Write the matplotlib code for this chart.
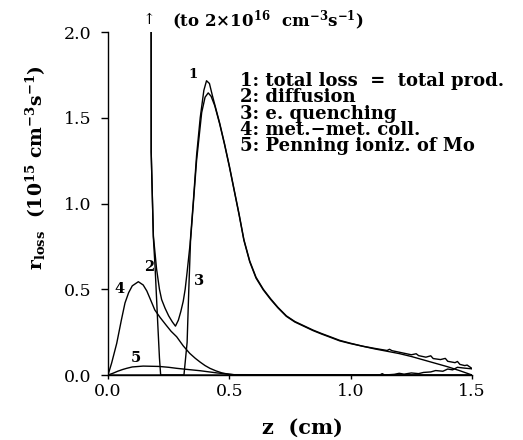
import matplotlib
matplotlib.use("Agg")
import matplotlib.pyplot as plt

plt.rcParams["font.family"] = ["DejaVu Serif", "DejaVu Sans"]
plt.rcParams["mathtext.fontset"] = "custom"
plt.rcParams["mathtext.rm"] = "DejaVu Serif:bold"
plt.rcParams["mathtext.bf"] = "DejaVu Serif:bold"
plt.rcParams["mathtext.it"] = "DejaVu Serif:bold:italic"
plt.rcParams["mathtext.default"] = "rm"

# ---- data (r_loss in 1e15 cm^-3 s^-1, z in cm) ----
# 1: total loss = total prod.
z_total = [0.0, 0.172, 0.178, 0.187, 0.200, 0.212, 0.221, 0.235, 0.250, 0.265,
           0.278, 0.290, 0.300, 0.310, 0.318, 0.326, 0.338, 0.352, 0.365, 0.380,
           0.395, 0.406, 0.418, 0.430, 0.445, 0.460, 0.480, 0.500, 0.520, 0.540,
           0.560, 0.584, 0.610, 0.640, 0.670, 0.700, 0.735, 0.770, 0.800, 0.845,
           0.880, 0.914, 0.955, 1.000, 1.050, 1.100, 1.150, 1.160, 1.170, 1.200,
           1.250, 1.270, 1.280, 1.310, 1.330, 1.340, 1.370, 1.390, 1.400, 1.430,
           1.440, 1.450, 1.470, 1.480, 1.500]
r_total = [20.0, 20.0, 1.30, 0.81, 0.62, 0.50, 0.44, 0.39, 0.345, 0.31,
           0.285, 0.32, 0.37, 0.43, 0.50, 0.60, 0.76, 1.02, 1.28, 1.50,
           1.66, 1.716, 1.70, 1.63, 1.55, 1.47, 1.35, 1.22, 1.08, 0.94,
           0.79, 0.665, 0.57, 0.50, 0.445, 0.395, 0.345, 0.312, 0.292, 0.262,
           0.242, 0.224, 0.202, 0.185, 0.168, 0.155, 0.143, 0.150, 0.142, 0.133,
           0.118, 0.124, 0.113, 0.104, 0.112, 0.096, 0.090, 0.097, 0.080, 0.072,
           0.079, 0.062, 0.055, 0.058, 0.038]

# 2: diffusion
z_diff = [0.0, 0.172, 0.178, 0.187, 0.194, 0.205, 0.212, 0.217, 1.10, 1.12,
          1.13, 1.14, 1.18, 1.20, 1.22, 1.25, 1.28, 1.30, 1.33, 1.35,
          1.38, 1.40, 1.42, 1.44, 1.47, 1.50]
r_diff = [20.0, 20.0, 1.30, 0.80, 0.63, 0.30, 0.10, 0.0, 0.0, 0.0,
          0.008, 0.0, 0.004, 0.010, 0.005, 0.012, 0.008, 0.015, 0.018, 0.026,
          0.022, 0.035, 0.030, 0.045, 0.040, 0.036]

# 3: e. quenching
z_quench = [0.0, 0.313, 0.326, 0.333, 0.340, 0.365, 0.386, 0.400, 0.413, 0.425,
            0.440, 0.460, 0.480, 0.500, 0.520, 0.540, 0.560, 0.584, 0.610, 0.640,
            0.670, 0.700, 0.735, 0.770, 0.800, 0.845, 0.880, 0.914, 0.955, 1.000,
            1.100, 1.200, 1.250, 1.300, 1.350, 1.400, 1.450, 1.500]
r_quench = [0.0, 0.0, 0.19, 0.50, 0.78, 1.25, 1.53, 1.62, 1.645, 1.625,
            1.57, 1.465, 1.345, 1.215, 1.075, 0.935, 0.785, 0.66, 0.565, 0.496,
            0.441, 0.392, 0.342, 0.309, 0.289, 0.259, 0.239, 0.221, 0.199, 0.183,
            0.152, 0.125, 0.108, 0.088, 0.068, 0.048, 0.025, 0.0]

# 4: met.-met. coll.
z_metmet = [0.0, 0.015, 0.036, 0.055, 0.070, 0.085, 0.100, 0.125, 0.145, 0.160,
            0.175, 0.193, 0.215, 0.240, 0.260, 0.283, 0.310, 0.337, 0.360, 0.380,
            0.400, 0.420, 0.445, 0.470, 0.500, 0.530, 1.500]
r_metmet = [0.0, 0.07, 0.185, 0.32, 0.42, 0.48, 0.52, 0.544, 0.525, 0.49,
            0.44, 0.379, 0.335, 0.29, 0.255, 0.223, 0.17, 0.126, 0.097, 0.075,
            0.055, 0.039, 0.024, 0.012, 0.004, 0.0, 0.0]

# 5: Penning ioniz. of Mo
z_penning = [0.0, 0.020, 0.040, 0.060, 0.077, 0.100, 0.145, 0.210, 0.250, 0.283,
             0.330, 0.380, 0.450, 0.520, 1.500]
r_penning = [0.0, 0.010, 0.022, 0.032, 0.039, 0.047, 0.052, 0.050, 0.045, 0.039,
             0.032, 0.025, 0.012, 0.002, 0.0]

legend_lines = ["1: total loss  =  total prod.", "2: diffusion", "3: e. quenching",
                "4: met.\u2212met. coll.", "5: Penning ioniz. of Mo"]
curve_tags = ["1", "2", "3", "4", "5"]
tag_z = [0.351, 0.168, 0.376, 0.047, 0.115]
tag_r = [1.75, 0.63, 0.55, 0.50, 0.10]
tag_size = [9.5, 10.5, 10.5, 10.5, 10.5]

fig = plt.figure(figsize=(5.23, 4.40), dpi=100)
ax = fig.add_axes([0.2065, 0.1477, 0.696, 0.7795])

for zz, rr in [(z_total, r_total), (z_diff, r_diff), (z_quench, r_quench),
               (z_metmet, r_metmet), (z_penning, r_penning)]:
    ax.plot(zz, rr, color="black", lw=1.0)

ax.set_xlim(0, 1.5)
ax.set_ylim(0, 2.0)
ax.set_xticks([0.0, 0.5, 1.0, 1.5])
ax.set_yticks([0.0, 0.5, 1.0, 1.5, 2.0])
ax.xaxis.set_major_formatter(matplotlib.ticker.FormatStrFormatter("%.1f"))
ax.yaxis.set_major_formatter(matplotlib.ticker.FormatStrFormatter("%.1f"))
ax.tick_params(axis="y", direction="out", length=5, width=1, pad=7, labelsize=12.5)
ax.tick_params(axis="x", direction="out", length=3, width=1, pad=3, labelsize=12.5)
for s in ["top", "right"]:
    ax.spines[s].set_visible(False)
for s in ["left", "bottom"]:
    ax.spines[s].set_linewidth(1.0)

for t, zx, ry, fs in zip(curve_tags, tag_z, tag_r, tag_size):
    ax.text(zx, ry, t, fontsize=fs, fontweight="bold", ha="center", va="center")

# legend block as plain text lines
y0 = 1 - 81 / 440
for i, s in enumerate(legend_lines):
    fig.text(240 / 523, y0 - i * 16.3 / 440, s, fontsize=13, fontweight="bold",
             ha="left", va="center")

fig.text(149 / 523, 1 - 20 / 440, "\u2191", fontsize=11, ha="center", va="center")
fig.text(172 / 523, 1 - 21 / 440,
         r"(to 2$\times$10$^{16}$  cm$^{-3}$s$^{-1}$)", fontsize=12,
         fontweight="bold", ha="left", va="center")

fig.text(302 / 523, 1 - 428 / 440, "z  (cm)", fontsize=15, fontweight="bold",
         ha="center", va="center")
fig.text(36 / 523, 1 - 168 / 440,
         r"r$_{\mathrm{loss}}$  (10$^{15}$ cm$^{-3}$s$^{-1}$)", fontsize=13.5,
         fontweight="bold", rotation=90, ha="center", va="center")

fig.savefig("out.png", dpi=100)
